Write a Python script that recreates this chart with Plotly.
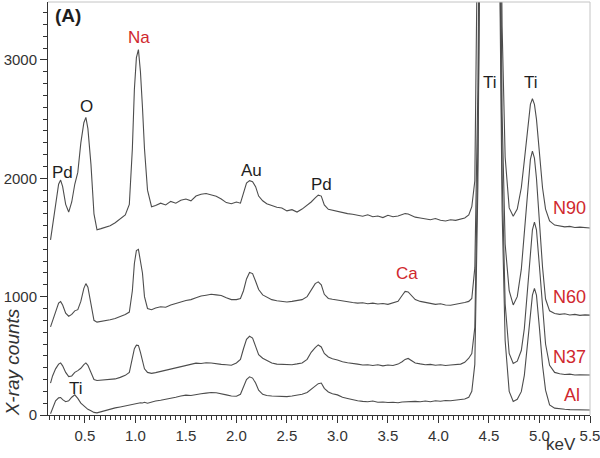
import plotly.graph_objects as go

# ---------------- data ----------------
X = [
    0.16, 0.18, 0.21, 0.24, 0.26, 0.28, 0.31, 0.34, 0.37, 0.40,
    0.43, 0.46, 0.49, 0.51, 0.53, 0.56, 0.59, 0.62, 0.66, 0.70,
    0.75, 0.80, 0.85, 0.90, 0.94, 0.97, 0.99, 1.01, 1.03, 1.05,
    1.07, 1.09, 1.12, 1.16, 1.20, 1.25, 1.30, 1.35, 1.40, 1.45,
    1.50, 1.55, 1.60, 1.65, 1.70, 1.75, 1.80, 1.85, 1.90, 1.95,
    2.00, 2.04, 2.07, 2.10, 2.13, 2.16, 2.19, 2.22, 2.26, 2.30,
    2.35, 2.40, 2.45, 2.50, 2.55, 2.60, 2.65, 2.70, 2.74, 2.78,
    2.81, 2.84, 2.87, 2.91, 2.95, 3.00, 3.05, 3.10, 3.15, 3.20,
    3.25, 3.30, 3.35, 3.40, 3.45, 3.50, 3.55, 3.60, 3.64, 3.67,
    3.70, 3.73, 3.77, 3.82, 3.87, 3.92, 3.97, 4.02, 4.07, 4.12,
    4.17, 4.22, 4.26, 4.30, 4.33, 4.36, 4.39, 4.41, 4.43, 4.45,
    4.47, 4.49, 4.51, 4.53, 4.55, 4.57, 4.59, 4.61, 4.63, 4.66,
    4.70, 4.74, 4.78, 4.82, 4.85, 4.88, 4.91, 4.93, 4.95, 4.97,
    5.00, 5.03, 5.06, 5.10, 5.15, 5.20, 5.25, 5.30, 5.35, 5.40,
    5.45, 5.50,
]

N90 = [
    1480, 1600, 1760, 1950, 1985, 1930, 1780, 1715, 1800, 1950,
    2050, 2300, 2470, 2515, 2420, 2120, 1700, 1565, 1575, 1585,
    1600, 1625, 1655, 1690, 1780, 2250, 2750, 3020, 3088, 2900,
    2600, 2250, 1900, 1760, 1770, 1790, 1775, 1805, 1790, 1815,
    1825, 1810, 1850, 1865, 1872, 1858, 1848, 1825, 1795, 1785,
    1800, 1790, 1880, 1960, 1980, 1972, 1930, 1850, 1810, 1785,
    1770, 1755, 1750, 1725, 1735, 1715, 1740, 1770, 1800, 1835,
    1858, 1850, 1775, 1738, 1730, 1722, 1712, 1702, 1697, 1688,
    1680, 1692, 1675, 1682, 1668, 1688, 1675, 1682, 1690, 1702,
    1698, 1685, 1672, 1665, 1660, 1650, 1660, 1645, 1640, 1650,
    1645, 1655, 1665, 1690, 1760, 1980, 3480, 5680, 8180, 10680,
    12680, 13680, 13980, 13680, 12680, 10180, 7180, 4980, 3280, 2180,
    1750, 1680, 1740, 1920, 2150, 2420, 2625, 2672, 2625, 2500,
    2200, 1920, 1740, 1640, 1605, 1598, 1590, 1594, 1585, 1588,
    1582, 1580,
]

N60 = [
    745, 800, 880, 945, 958, 930, 860, 835, 850, 880,
    890, 960, 1070, 1110, 1080, 930, 800, 785, 790, 795,
    805, 815, 830, 850, 870, 1050, 1280, 1390, 1400, 1300,
    1200, 1000, 900, 890, 905, 915, 910, 930, 945, 955,
    968, 975, 990, 1005, 1012, 1020, 1015, 1010, 990, 975,
    975, 985, 1050, 1150, 1205, 1195, 1130, 1060, 1015, 995,
    975, 965, 958, 955, 960, 968, 975, 1000, 1060, 1110,
    1125, 1100, 1020, 985, 978, 970, 960, 955, 950, 945,
    948, 940, 945, 938, 942, 935, 945, 960, 1010, 1045,
    1040, 1010, 975, 960, 950, 945, 935, 940, 930, 928,
    935, 945, 950, 960, 985, 1245, 2745, 4945, 7445, 9945,
    11945, 12945, 13245, 12945, 11945, 9445, 6445, 4245, 2545, 1445,
    1050, 930, 1000, 1230, 1530, 1890, 2160, 2230, 2170, 2000,
    1620, 1250, 980, 880, 858, 850, 855, 845, 850, 842,
    846, 844,
]

N37 = [
    270, 330, 390, 430, 440, 415, 360, 325, 330, 360,
    375, 395, 425, 440, 420, 360, 300, 292, 295, 295,
    298, 305, 318, 335, 360, 470, 560, 590, 588, 530,
    450, 390, 360, 352, 358, 368, 375, 382, 395, 402,
    415, 425, 438, 435, 442, 440, 432, 428, 425, 420,
    440, 470, 560, 640, 665, 650, 580, 510, 480, 460,
    440, 430, 428, 422, 425, 432, 440, 470, 530, 570,
    592, 575, 520, 490, 475, 465, 450, 442, 438, 430,
    422, 425, 418, 425, 415, 422, 418, 430, 450, 470,
    478, 460, 440, 432, 425, 428, 420, 425, 418, 422,
    425, 430, 445, 480, 520, 740, 2240, 4440, 6940, 9440,
    11440, 12440, 12740, 12440, 11440, 8940, 5940, 3740, 2040, 940,
    520, 435, 455, 545, 730, 1040, 1390, 1565, 1630, 1565,
    1250, 880, 600, 420, 360, 348, 342, 345, 338, 340,
    336, 338,
]

AL = [
    10, 60, 120, 145, 148, 130, 112, 120, 150, 170,
    140, 100, 75, 60, 48, 35, 22, 18, 28, 38,
    48, 60, 68, 78, 88, 92, 96, 98, 100, 104,
    102, 108, 100, 110, 118, 125, 132, 140, 150, 160,
    168, 165, 175, 180, 185, 190, 188, 182, 170, 160,
    158, 175, 240, 300, 323, 312, 270, 210, 175, 165,
    160, 158, 152, 155, 160, 168, 175, 190, 215, 245,
    265, 270, 225, 195, 180, 170, 150, 140, 128, 120,
    115, 112, 118, 108, 110, 105, 108, 104, 110, 112,
    108, 110, 115, 112, 118, 112, 120, 116, 122, 121,
    125, 128, 135, 150, 200, 430, 1930, 4130, 6630, 9130,
    11130, 12130, 12430, 12130, 11130, 8630, 5630, 3430, 1730, 630,
    200, 115, 133, 197, 335, 576, 870, 1013, 1070, 1013,
    730, 420, 210, 85, 58, 50, 48, 45, 44, 42,
    44, 42,
]

SERIES = ["N90", "N60", "N37", "Al"]
XTICKS = [0.5, 1.0, 1.5, 2.0, 2.5, 3.0, 3.5, 4.0, 4.5, 5.0, 5.5]
XTICKTEXT = ["0.5", "1.0", "1.5", "2.0", "2.5", "3.0", "3.5", "4.0", "4.5", "5.0", "5.5"]
YTICKS = [0, 1000, 2000, 3000]
YTICKTEXT = ["0", "1000", "2000", "3000"]

# peak / series labels: (text, x keV, y counts, colour key)
PEAK_LABELS = [
    ("Pd", 0.274, 2053, "k"),
    ("O", 0.516, 2603, "k"),
    ("Na", 1.031, 3190, "r"),
    ("Au", 2.150, 2070, "k"),
    ("Pd", 2.843, 1948, "k"),
    ("Ti", 4.511, 2810, "k"),
    ("Ti", 4.912, 2810, "k"),
    ("Ca", 3.684, 1196, "r"),
    ("Ti", 0.417, 224, "k"),
]
SERIES_LABELS = [
    ("N90", 5.48, 1753),
    ("N60", 5.48, 993),
    ("N37", 5.48, 494),
    ("Al", 5.42, 165),
]

# ---------------- styling ----------------
FONT = "Arial, Liberation Sans, sans-serif"
LINE = "#4d4d4d"
RED = "#d0282e"
BLACK = "#1e1e1e"
AXIS = "#333333"

for arr in (N90, N60, N37, AL):
    assert len(arr) == len(X)

fig = go.Figure()
for name, ys in zip(SERIES, [N90, N60, N37, AL]):
    fig.add_trace(go.Scatter(
        x=X, y=ys, mode="lines", name=name,
        line=dict(color=LINE, width=1.1),
        hoverinfo="skip",
    ))

annotations = []
for text, x, y, c in PEAK_LABELS:
    annotations.append(dict(
        x=x, y=y, xref="x", yref="y", text=text, showarrow=False,
        xanchor="center", yanchor="middle",
        font=dict(family=FONT, size=17, color=RED if c == "r" else BLACK),
    ))
for text, x, y in SERIES_LABELS:
    annotations.append(dict(
        x=x, y=y, xref="x", yref="y", text=text, showarrow=False,
        xanchor="right", yanchor="middle",
        font=dict(family=FONT, size=18, color=RED),
    ))
annotations.append(dict(
    x=0.333, y=3380, xref="x", yref="y", text="<b>(A)</b>", showarrow=False,
    xanchor="center", yanchor="middle",
    font=dict(family=FONT, size=19, color=BLACK),
))
annotations.append(dict(
    x=0.9465, y=-0.072, xref="paper", yref="paper", text="keV", showarrow=False,
    xanchor="center", yanchor="middle",
    font=dict(family=FONT, size=17, color=AXIS),
))
annotations.append(dict(
    x=-0.066, y=0.128, xref="paper", yref="paper", text="<i>X-ray counts</i>",
    showarrow=False, textangle=-90, xanchor="center", yanchor="middle",
    font=dict(family=FONT, size=19, color=AXIS),
))

fig.update_layout(
    width=600, height=458,
    margin=dict(l=48, r=10, t=2, b=43, pad=0, autoexpand=False),
    paper_bgcolor="white", plot_bgcolor="white",
    showlegend=False,
    font=dict(family=FONT, color=AXIS),
    xaxis=dict(
        range=[0.135, 5.5], tickmode="array", tickvals=XTICKS, ticktext=XTICKTEXT,
        ticks="outside", ticklen=7, tickwidth=1, tickcolor=AXIS,
        showline=True, linecolor=AXIS, linewidth=1, mirror=False,
        showgrid=False, zeroline=False, automargin=False,
        ticklabeloverflow="allow",
        tickfont=dict(family=FONT, size=15, color=AXIS),
        minor=dict(ticks="outside", ticklen=4, tickwidth=1, tickcolor=AXIS,
                   dtick=0.05, tick0=0, showgrid=False),
    ),
    yaxis=dict(
        range=[0, 3490], tickmode="array", tickvals=YTICKS, ticktext=YTICKTEXT,
        ticks="outside", ticklen=7, tickwidth=1, tickcolor=AXIS,
        showline=True, linecolor=AXIS, linewidth=1, mirror=False,
        showgrid=False, zeroline=False, automargin=False,
        ticklabeloverflow="allow",
        tickfont=dict(family=FONT, size=15, color=AXIS),
        minor=dict(ticks="outside", ticklen=4, tickwidth=1, tickcolor=AXIS,
                   dtick=100, tick0=0, showgrid=False),
    ),
    annotations=annotations,
    shapes=[
        dict(type="line", xref="paper", yref="paper", x0=0, x1=1, y0=1, y1=1,
             line=dict(color="#c4c4c4", width=1)),
        dict(type="line", xref="paper", yref="paper", x0=1, x1=1, y0=0, y1=1,
             line=dict(color="#c4c4c4", width=1)),
    ],
)

fig.write_html(
    "out.html",
    config={"displayModeBar": False},
    post_script="document.body.style.margin='0';document.body.style.padding='0';",
)
